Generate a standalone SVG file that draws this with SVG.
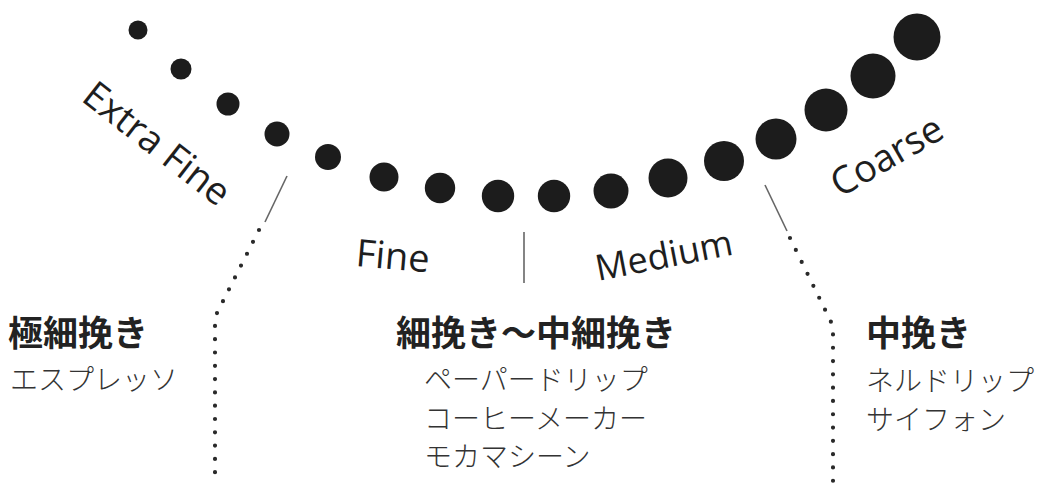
<svg xmlns="http://www.w3.org/2000/svg" width="1045" height="487" viewBox="0 0 1045 487">
<style>
.bg{fill:#ffffff}
.dot{fill:#1c1c1c}
.en{font-family:"Open Sans","DejaVu Sans",sans-serif;font-size:38px;fill:#1e1e1e}
.hd{font-family:"Noto Sans CJK JP","Noto Sans CJK SC",sans-serif;font-size:35px;font-weight:700;fill:#222}
.jp{font-family:"Noto Sans CJK JP","Noto Sans CJK SC",sans-serif;font-size:28px;font-weight:300;fill:#333}
.sep{stroke:#666;stroke-width:1.6;fill:none}
.dotted{stroke:#2a2a2a;stroke-width:4.2;stroke-linecap:round;stroke-dasharray:0 13.3;fill:none}
</style>
<rect class="bg" x="0" y="0" width="1045" height="487"/>
<g id="grind-dots">
<circle class="dot" cx="138" cy="30" r="9.5"/>
<circle class="dot" cx="181" cy="69" r="10.5"/>
<circle class="dot" cx="228" cy="104" r="11.5"/>
<circle class="dot" cx="277" cy="134" r="12.5"/>
<circle class="dot" cx="328" cy="157" r="13"/>
<circle class="dot" cx="384" cy="177" r="14.5"/>
<circle class="dot" cx="440" cy="188" r="15.2"/>
<circle class="dot" cx="498" cy="196" r="16.2"/>
<circle class="dot" cx="554" cy="196" r="16.2"/>
<circle class="dot" cx="611" cy="191" r="17.5"/>
<circle class="dot" cx="668" cy="178" r="19.5"/>
<circle class="dot" cx="724" cy="161" r="20"/>
<circle class="dot" cx="776" cy="139" r="20.5"/>
<circle class="dot" cx="826" cy="110" r="21.5"/>
<circle class="dot" cx="873" cy="76" r="22.5"/>
<circle class="dot" cx="917" cy="37" r="23.5"/>
</g>
<g id="scale-labels">
<text class="en" transform="translate(80,100) rotate(38)">Extra Fine</text>
<text class="en" transform="translate(355,266) rotate(5)">Fine</text>
<text class="en" style="font-size:36px" transform="translate(598,281) rotate(-11)">Medium</text>
<text class="en" transform="translate(840,198) rotate(-30)">Coarse</text>
</g>
<g id="connectors">
<line class="sep" x1="287" y1="176" x2="265" y2="222"/>
<polyline class="dotted" points="259,230 215,317 215,475"/>
<line class="sep" x1="524" y1="232" x2="524" y2="283"/>
<line class="sep" x1="765" y1="185" x2="787" y2="231"/>
<polyline class="dotted" points="790,238 833,326 833,485"/>
</g>
<g id="extra-fine">
<text class="hd" x="8" y="346">極細挽き</text>
<text class="jp" x="10" y="390">エスプレッソ</text>
</g>
<g id="fine-medium">
<text class="hd" x="396" y="346">細挽き〜中細挽き</text>
<text class="jp" x="424" y="390">ペーパードリップ</text>
<text class="jp" x="424" y="429">コーヒーメーカー</text>
<text class="jp" x="424" y="467">モカマシーン</text>
</g>
<g id="medium">
<text class="hd" x="866" y="346">中挽き</text>
<text class="jp" x="866" y="391">ネルドリップ</text>
<text class="jp" x="866" y="430">サイフォン</text>
</g>
</svg>
